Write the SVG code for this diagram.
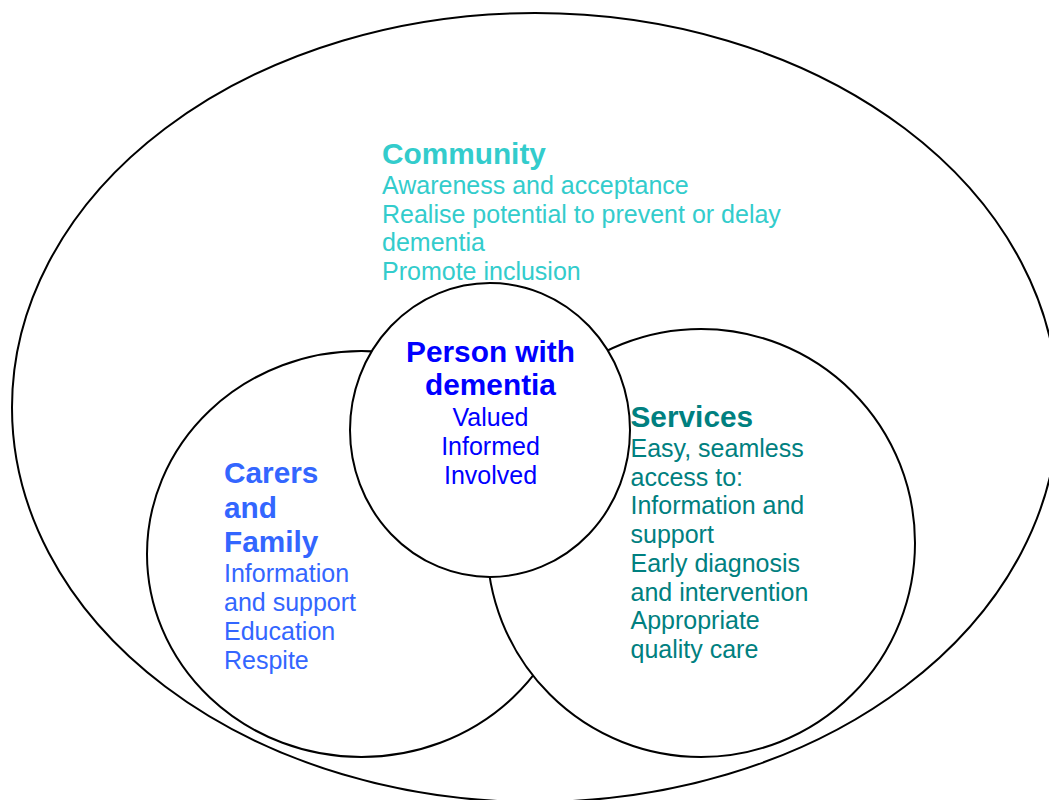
<svg xmlns="http://www.w3.org/2000/svg" width="1049" height="800" viewBox="0 0 1049 800">
  <style>
    .ring { fill: #ffffff; stroke: #000000; stroke-width: 2; }
    text { font-family: "Liberation Sans", Arial, sans-serif; font-size: 25px; }
    .title { font-weight: bold; font-size: 29.8px; }
    .community { fill: #33CCCC; }
    .carers { fill: #3366FF; }
    .person { fill: #0000FF; }
    .services { fill: #008080; }
  </style>
  <rect x="0" y="0" width="1049" height="800" fill="#ffffff"/>

  <!-- Outer ring: the community -->
  <g id="community">
    <ellipse class="ring" cx="535" cy="407.5" rx="523" ry="394.5"/>
  </g>

  <!-- Carers circle sits under the services circle -->
  <g id="carers">
    <ellipse class="ring" cx="361.4" cy="554" rx="214.4" ry="203"/>
  </g>

  <g id="services">
    <circle class="ring" cx="701" cy="543" r="214"/>
  </g>

  <!-- Person at the centre, on top of both -->
  <g id="person">
    <ellipse class="ring" cx="490" cy="430" rx="140" ry="147"/>
  </g>

  <g id="connectors"></g>

  <!-- Labels -->
  <g id="community-label" class="community">
    <text class="title" x="382" y="164">Community</text>
    <text x="382" y="194">Awareness and acceptance</text>
    <text x="382" y="222.5">Realise potential to prevent or delay</text>
    <text x="382" y="251">dementia</text>
    <text x="382" y="279.5">Promote inclusion</text>
  </g>

  <g id="person-label" class="person" text-anchor="middle">
    <text class="title" x="490.5" y="361.5">Person with</text>
    <text class="title" x="490.5" y="395">dementia</text>
    <text x="490.5" y="425.5">Valued</text>
    <text x="490.5" y="454.5">Informed</text>
    <text x="490.5" y="483.5">Involved</text>
  </g>

  <g id="carers-label" class="carers">
    <text class="title" x="224" y="483">Carers</text>
    <text class="title" x="224" y="517.5">and</text>
    <text class="title" x="224" y="551.5">Family</text>
    <text x="224" y="582">Information</text>
    <text x="224" y="611">and support</text>
    <text x="224" y="640">Education</text>
    <text x="224" y="669">Respite</text>
  </g>

  <g id="services-label" class="services">
    <text class="title" x="630.5" y="426.5">Services</text>
    <text x="630.5" y="457">Easy, seamless</text>
    <text x="630.5" y="485.5">access to:</text>
    <text x="630.5" y="514">Information and</text>
    <text x="630.5" y="542.5">support</text>
    <text x="630.5" y="571.5">Early diagnosis</text>
    <text x="630.5" y="600.5">and intervention</text>
    <text x="630.5" y="629">Appropriate</text>
    <text x="630.5" y="657.5">quality care</text>
  </g>
</svg>
